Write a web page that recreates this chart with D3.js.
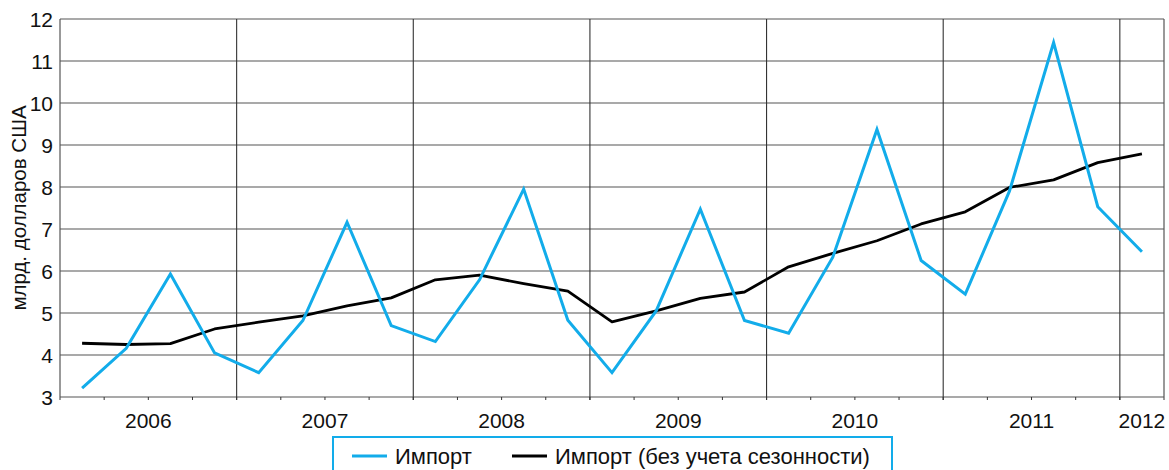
<!DOCTYPE html>
<html>
<head>
<meta charset="utf-8">
<script src="https://cdn.jsdelivr.net/npm/d3@7"></script>
<style>
  body { margin: 0; background: #fff; }
  svg text { font-family: "Liberation Sans", Arial, sans-serif; fill: #111; }
</style>
</head>
<body>
<svg id="chart" width="1169" height="470"></svg>
<script>
// quarterly data, 2006 Q1 .. 2012 Q1
const years = [2006, 2007, 2008, 2009, 2010, 2011, 2012];
const quarters = ["2006-1","2006-2","2006-3","2006-4",
                  "2007-1","2007-2","2007-3","2007-4",
                  "2008-1","2008-2","2008-3","2008-4",
                  "2009-1","2009-2","2009-3","2009-4",
                  "2010-1","2010-2","2010-3","2010-4",
                  "2011-1","2011-2","2011-3","2011-4",
                  "2012-1"];
const importVals = [3.21, 4.16, 5.93, 4.05,
                    3.58, 4.82, 7.16, 4.70,
                    4.32, 5.79, 7.95, 4.83,
                    3.58, 5.05, 7.47, 4.82,
                    4.52, 6.33, 9.37, 6.25,
                    5.45, 7.90, 11.44, 7.53,
                    6.46];
const importSA = [4.28, 4.25, 4.27, 4.62,
                  4.78, 4.93, 5.17, 5.36,
                  5.79, 5.90, 5.70, 5.52,
                  4.79, 5.05, 5.35, 5.50,
                  6.10, 6.42, 6.72, 7.12,
                  7.41, 7.99, 8.17, 8.58,
                  8.79];
const yTicks = [3, 4, 5, 6, 7, 8, 9, 10, 11, 12];
const seriesNames = ["Импорт", "Импорт (без учета сезонности)"];
const yTitle = "млрд. долларов США";

const blue = "#12acea";
const grid = "#555";

const svg = d3.select("#chart");
const plotL = 60, plotR = 1164, plotT = 19, plotB = 397;

const x = d3.scaleBand().domain(quarters).range([plotL, plotR]).padding(0);
const y = d3.scaleLinear().domain([3, 12]).range([plotB, plotT]);
const xc = q => x(q) + x.bandwidth() / 2;

// horizontal grid
svg.append("g")
  .selectAll("line")
  .data(yTicks)
  .join("line")
  .attr("x1", plotL).attr("x2", plotR)
  .attr("y1", d => y(d)).attr("y2", d => y(d))
  .attr("stroke", grid).attr("stroke-width", 1.2);

// vertical year lines
const yearStarts = quarters.filter(q => q.endsWith("-1"));
svg.append("g")
  .selectAll("line")
  .data(yearStarts.slice(1))
  .join("line")
  .attr("x1", d => x(d)).attr("x2", d => x(d))
  .attr("y1", plotT).attr("y2", plotB + 3)
  .attr("stroke", "#333").attr("stroke-width", 1.1);

// frame
svg.append("line").attr("x1", plotL).attr("x2", plotL).attr("y1", plotT).attr("y2", plotB + 3)
  .attr("stroke", grid).attr("stroke-width", 1.2);
svg.append("line").attr("x1", plotR).attr("x2", plotR).attr("y1", plotT).attr("y2", plotB + 3)
  .attr("stroke", grid).attr("stroke-width", 1.2);

// quarter ticks below the axis
svg.append("g")
  .selectAll("line")
  .data(quarters.slice(1))
  .join("line")
  .attr("x1", d => x(d)).attr("x2", d => x(d))
  .attr("y1", plotB).attr("y2", plotB + 3)
  .attr("stroke", "#333").attr("stroke-width", 1);

// y tick labels
svg.append("g")
  .selectAll("text")
  .data(yTicks)
  .join("text")
  .attr("x", 53).attr("y", d => y(d) + 7.5)
  .attr("text-anchor", "end")
  .style("font-size", "21px")
  .text(d => d);

// year labels, centred on each year's span
svg.append("g")
  .selectAll("text")
  .data(years)
  .join("text")
  .attr("x", yr => {
    const qs = quarters.filter(q => q.startsWith(String(yr)));
    return (x(qs[0]) + x(qs[qs.length - 1]) + x.bandwidth()) / 2;
  })
  .attr("y", 428)
  .attr("text-anchor", "middle")
  .style("font-size", "21px")
  .text(d => d);

// y title
svg.append("text")
  .attr("transform", "translate(26,208) rotate(-90)")
  .attr("text-anchor", "middle")
  .style("font-size", "20.5px")
  .text(yTitle);

// lines
const line = d3.line().x((d, i) => xc(quarters[i])).y(d => y(d));
svg.append("path").datum(importSA)
  .attr("d", line).attr("fill", "none")
  .attr("stroke", "#000").attr("stroke-width", 2.8).attr("stroke-linejoin", "round");
svg.append("path").datum(importVals)
  .attr("d", line).attr("fill", "none")
  .attr("stroke", blue).attr("stroke-width", 3).attr("stroke-linejoin", "miter");

// legend
const lg = svg.append("g");
lg.append("rect").attr("x", 333).attr("y", 437).attr("width", 559).attr("height", 50)
  .attr("fill", "#fff").attr("stroke", blue).attr("stroke-width", 2);
const items = [
  { name: seriesNames[0], color: blue, x0: 352 },
  { name: seriesNames[1], color: "#000", x0: 512 }
];
items.forEach(it => {
  lg.append("line").attr("x1", it.x0).attr("x2", it.x0 + 35)
    .attr("y1", 456).attr("y2", 456)
    .attr("stroke", it.color).attr("stroke-width", 3);
  lg.append("text").attr("x", it.x0 + 43).attr("y", 463.5)
    .style("font-size", "22px").text(it.name);
});
</script>
</body>
</html>
